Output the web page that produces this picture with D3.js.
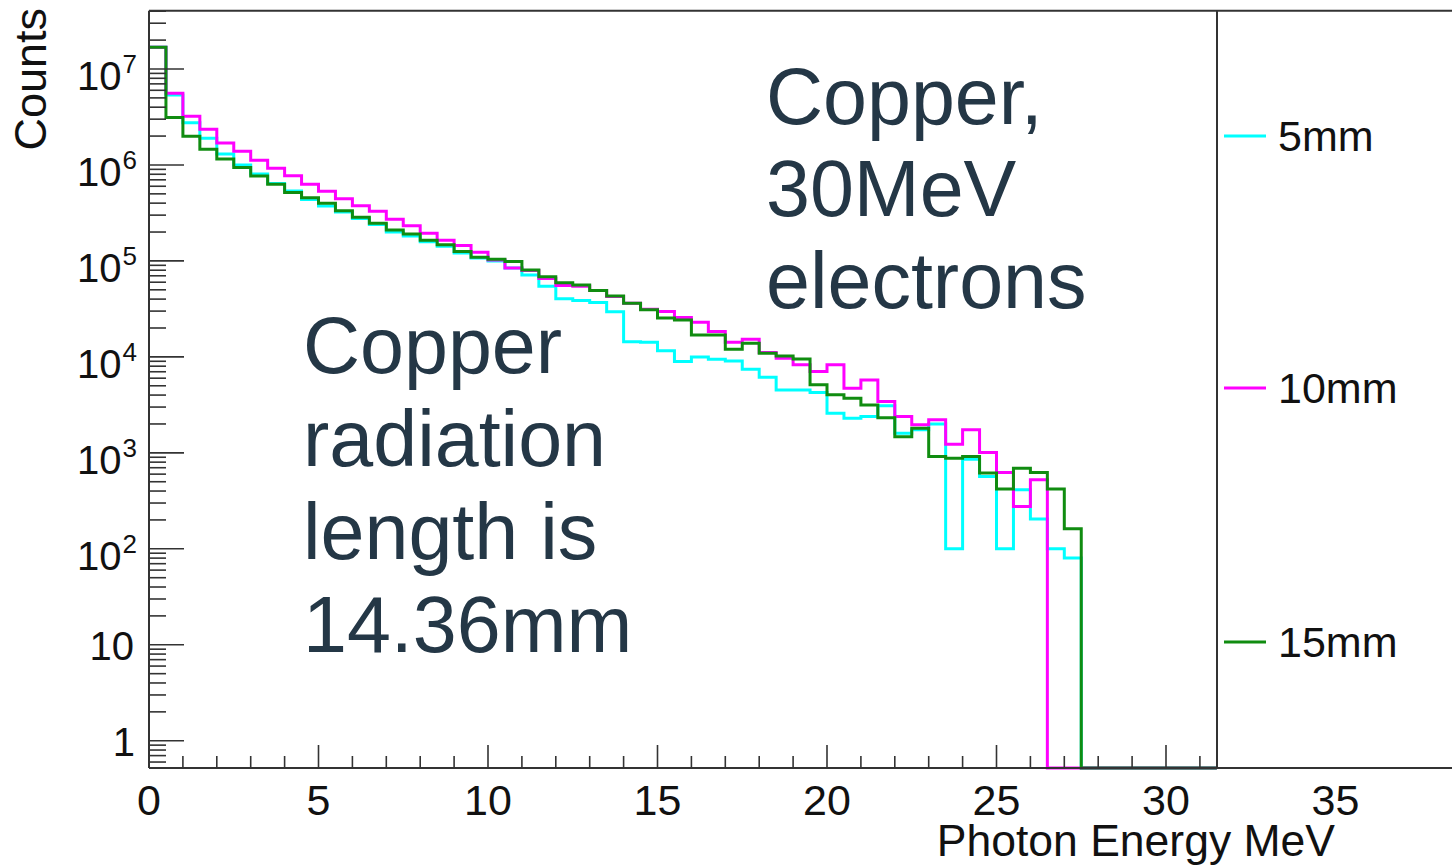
<!DOCTYPE html>
<html><head><meta charset="utf-8">
<script src="https://cdn.jsdelivr.net/npm/d3@7"></script>
<style>html,body{margin:0;padding:0;background:#fff;} svg{display:block;}</style>
</head><body><svg id="chart" width="1452" height="865"></svg>
<script>
// ---------------- data ----------------
const binStart = 0;      // MeV, low edge of first bin
const binWidth = 0.5;    // MeV per bin
// counts per 0.5 MeV bin, bins from 0 to 31.5 MeV
const counts5mm = [1.69e7, 5.36e6, 2.76e6, 1.90e6, 1.30e6, 1.00e6, 8.06e5, 6.42e5, 5.36e5, 4.37e5,
  3.74e5, 3.24e5, 2.77e5, 2.40e5, 2.00e5, 1.82e5, 1.58e5, 1.42e5, 1.21e5, 1.07e5,
  1.00e5, 8.46e4, 7.15e4, 5.45e4, 4.04e4, 3.86e4, 3.68e4, 2.96e4, 1.44e4, 1.42e4,
  1.16e4, 8.93e3, 1.00e4, 9.46e3, 9.08e3, 7.45e3, 6.15e3, 4.53e3, 4.53e3, 4.25e3,
  2.59e3, 2.30e3, 2.39e3, 3.09e3, 1.60e3, 1.74e3, 2.00e3, 100, 860, 566,
  100, 412, 204, 100, 80, 0, 0, 0, 0, 0, 0, 0, 0];
const counts10mm = [1.69e7, 5.58e6, 3.22e6, 2.35e6, 1.69e6, 1.39e6, 1.12e6, 9.24e5, 7.74e5, 6.31e5,
  5.33e5, 4.45e5, 3.76e5, 3.30e5, 2.72e5, 2.32e5, 1.94e5, 1.64e5, 1.45e5, 1.23e5,
  1.02e5, 8.46e4, 7.93e4, 6.54e4, 5.56e4, 5.45e4, 4.91e4, 4.25e4, 3.63e4, 3.13e4,
  2.98e4, 2.57e4, 2.30e4, 1.84e4, 1.42e4, 1.53e4, 1.11e4, 9.69e3, 8.26e3, 7.03e3,
  8.26e3, 4.72e3, 5.76e3, 3.42e3, 2.39e3, 1.96e3, 2.21e3, 1.23e3, 1.74e3, 1.01e3,
  623, 276, 523, 0, 0, 0, 0, 0, 0, 0, 0, 0, 0];
const counts15mm = [1.69e7, 3.12e6, 1.99e6, 1.46e6, 1.155e6, 9.42e5, 7.68e5, 6.31e5, 5.17e5, 4.56e5,
  3.99e5, 3.34e5, 2.85e5, 2.47e5, 2.10e5, 1.91e5, 1.64e5, 1.47e5, 1.25e5, 1.09e5,
  1.04e5, 9.84e4, 8.06e4, 6.86e4, 5.94e4, 5.62e4, 4.91e4, 4.32e4, 3.63e4, 3.09e4,
  2.55e4, 2.43e4, 1.69e4, 1.69e4, 1.20e4, 1.39e4, 1.09e4, 1.02e4, 9.53e3, 5.11e3,
  4.02e3, 3.71e3, 3.16e3, 2.32e3, 1.47e3, 1.81e3, 915, 881, 915, 615,
  419, 693, 623, 419, 162, 0, 0, 0, 0, 0, 0, 0, 0];
const seriesNames = ["5mm", "10mm", "15mm"];
const seriesColors = ["#00ffff", "#ff00ff", "#108c10"];
const xTickLabels = [0, 5, 10, 15, 20, 25, 30, 35];
const yTickExponents = [0, 1, 2, 3, 4, 5, 6, 7];
const xTitle = "Photon Energy MeV";
const yTitle = "Counts";
const noteBeam = ["Copper,", "30MeV", "electrons"];
const noteRadLength = ["Copper", "radiation", "length is", "14.36mm"];

// ---------------- layout ----------------
const svg = d3.select("#chart");
const FL = 149, FT = 10.7, FB = 768, LEGX = 1217, W = 1452;
const x = d3.scaleLinear().domain([0, 40]).range([FL, FL + 40 * 33.9]);
const y = d3.scaleLog().domain([0.52, 4.05e7]).range([FB, FT]);
const axisColor = "#333";
const font = "'Liberation Sans', Arial, Helvetica, sans-serif";

// histograms
const allSeries = [counts5mm, counts10mm, counts15mm];
const line = d3.line()
  .x(d => x(d[0]))
  .y(d => d[1] > 0 ? y(d[1]) : FB)
  .curve(d3.curveStepAfter);
allSeries.forEach((vals, si) => {
  const pts = vals.map((v, i) => [binStart + i * binWidth, v]);
  pts.push([binStart + vals.length * binWidth, vals[vals.length - 1]]);
  svg.append("path").attr("d", line(pts))
    .attr("fill", "none").attr("stroke", seriesColors[si])
    .attr("stroke-width", 3).attr("stroke-linejoin", "miter");
});

// y ticks
const yMaj = [], yMin = [];
for (let k = -1; k <= 7; k++) {
  for (let m = 1; m <= 9; m++) {
    const v = m * Math.pow(10, k);
    if (v < y.domain()[0] || v > y.domain()[1]) continue;
    (m === 1 ? yMaj : yMin).push(v);
  }
}
svg.append("g").selectAll("line").data(yMaj).join("line")
  .attr("x1", FL).attr("x2", FL + 35).attr("y1", d => y(d)).attr("y2", d => y(d))
  .attr("stroke", axisColor).attr("stroke-width", 1.6);
svg.append("g").selectAll("line").data(yMin).join("line")
  .attr("x1", FL).attr("x2", FL + 17).attr("y1", d => y(d)).attr("y2", d => y(d))
  .attr("stroke", axisColor).attr("stroke-width", 1.6);

// x ticks
const xt = d3.range(0, 32, 1);
svg.append("g").selectAll("line").data(xt).join("line")
  .attr("x1", d => x(d)).attr("x2", d => x(d))
  .attr("y1", FB).attr("y2", d => d % 5 === 0 ? FB - 23 : FB - 12)
  .attr("stroke", axisColor).attr("stroke-width", 1.6);

// legend box (white, covers right part of frame)
svg.append("rect").attr("x", LEGX).attr("y", FT).attr("width", 300).attr("height", FB - FT)
  .attr("fill", "#fff");
const legY = [136, 388, 642];
seriesNames.forEach((n, i) => {
  svg.append("line").attr("x1", 1224).attr("x2", 1266).attr("y1", legY[i]).attr("y2", legY[i])
    .attr("stroke", seriesColors[i]).attr("stroke-width", 3);
  svg.append("text").attr("x", 1278).attr("y", legY[i] + 15)
    .attr("font-family", font).attr("font-size", 43).attr("fill", "#111").text(n);
});

// frame lines
const fr = svg.append("g").attr("stroke", axisColor).attr("stroke-width", 2);
fr.append("line").attr("x1", FL).attr("x2", FL).attr("y1", FT).attr("y2", FB);
fr.append("line").attr("x1", FL).attr("x2", W).attr("y1", FT).attr("y2", FT);
fr.append("line").attr("x1", FL).attr("x2", W).attr("y1", FB).attr("y2", FB);
fr.append("line").attr("x1", LEGX).attr("x2", LEGX).attr("y1", FT).attr("y2", FB);

// y tick labels
yTickExponents.forEach(e => {
  const v = Math.pow(10, e);
  const ty = y(v);
  const t = svg.append("text").attr("text-anchor", "end")
    .attr("font-family", font).attr("font-size", 40).attr("fill", "#111");
  if (e === 0) { t.attr("x", 135).attr("y", ty + 15).text("1"); }
  else if (e === 1) { t.attr("x", 134).attr("y", ty + 15).text("10"); }
  else {
    t.attr("x", 137).attr("y", ty + 21).text("10");
    t.append("tspan").attr("font-size", 26).attr("dy", -17).attr("dx", 1).text(String(e));
  }
});

// x tick labels
svg.append("g").selectAll("text").data(xTickLabels).join("text")
  .attr("x", d => x(d)).attr("y", 815).attr("text-anchor", "middle")
  .attr("font-family", font).attr("font-size", 43).attr("fill", "#111")
  .text(d => d);

// axis titles
svg.append("text").attr("x", 1335).attr("y", 856).attr("text-anchor", "end")
  .attr("font-family", font).attr("font-size", 44.5).attr("fill", "#111").text(xTitle);
svg.append("text").attr("transform", "translate(46,8) rotate(-90)").attr("text-anchor", "end")
  .attr("font-family", font).attr("font-size", 45).attr("fill", "#111").text(yTitle);

// annotations
const noteColor = "#243746";
noteBeam.forEach((s, i) => {
  svg.append("text").attr("x", 766).attr("y", 124 + i * 92)
    .attr("font-family", font).attr("font-size", 79).attr("fill", noteColor).text(s);
});
noteRadLength.forEach((s, i) => {
  svg.append("text").attr("x", 303).attr("y", 373 + i * 93)
    .attr("font-family", font).attr("font-size", 79).attr("fill", noteColor).text(s);
});
</script></body></html>
